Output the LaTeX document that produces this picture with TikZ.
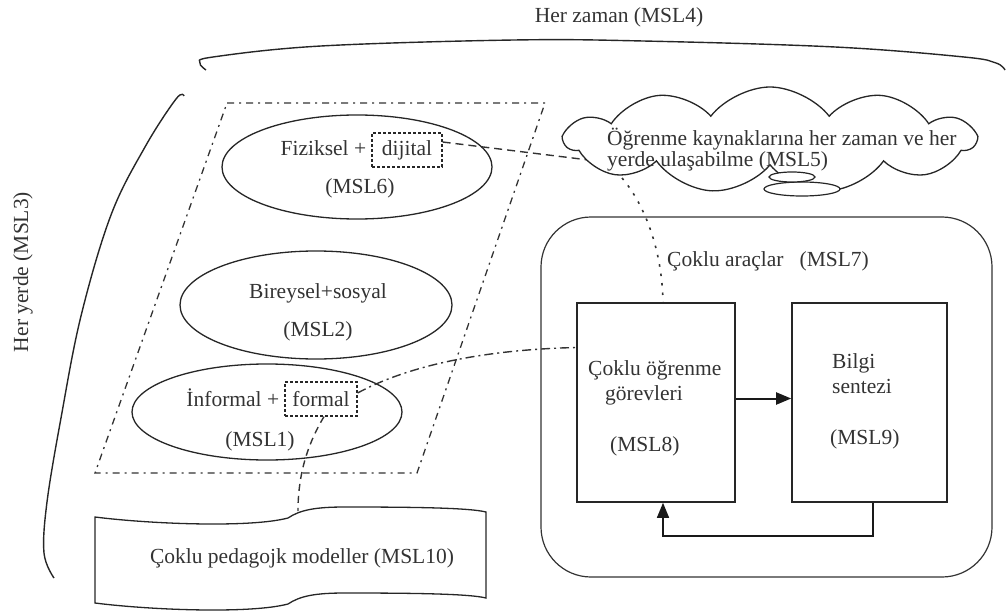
\documentclass[tikz,border=0pt]{standalone}
\usepackage{fontspec}
\setmainfont{Liberation Serif}
\usetikzlibrary{shapes.geometric,shapes.symbols,arrows.meta}
\begin{document}
\begin{tikzpicture}[x=1pt,y=-1pt,
  every node/.style={font=\fontsize{21.5}{25}\selectfont, text=black!80},
  lbl/.style={inner sep=0pt, anchor=base},
  lblw/.style={inner sep=0pt, anchor=base west},
  oval/.style={draw=black!85, ellipse, line width=1.3pt, inner sep=0pt},
  tagbox/.style={draw=black!85, line width=1.2pt, dash pattern=on 3pt off 2pt, inner sep=0pt, minimum height=34pt},
  taskbox/.style={draw=black!85, line width=1.6pt, inner sep=0pt, minimum height=199pt},
  brace/.style={draw=black!85, line width=1.4pt},
  frame/.style={draw=black!80, line width=1.3pt, dash pattern=on 7pt off 5pt on 2pt off 5pt},
  link/.style={draw=black!80, line width=1.4pt},
  flow/.style={draw=black!90, -{Triangle[length=15pt,width=12pt]}},
]
\useasboundingbox (0,0) rectangle (1008,612);

% braces for "every time" and "everywhere"
\draw[brace] plot[smooth, tension=0.6] coordinates {(206,70) (200,63) (213,57) (321,46) (514,40) (643,41) (835,47) (964,57) (996,63) (1005,70)};
\draw[brace] plot[smooth, tension=0.6] coordinates {(184,96) (176,99) (145,147) (111,215) (81,316) (61,418) (47,502) (44,553) (54,578)};
\node[lbl] (t4) at (619,23) {Her zaman (MSL4)};
\node[rotate=90, inner sep=0pt] (t3) at (23,272) {Her yerde (MSL3)};

% dash-dot frame around the three learning dimensions
\draw[frame] (227,103) -- (545,103) -- (417,473) -- (95,473) -- cycle;

% the three ovals
\node[oval, minimum width=270pt, minimum height=104pt] (e6) at (357,167) {};
\node[oval, minimum width=272pt, minimum height=108pt] (e2) at (316,305) {};
\node[oval, minimum width=270pt, minimum height=96pt] (e1) at (267,412) {};

\node[tagbox, minimum width=70pt] (dij) at (407,150) {dijital};
\node[anchor=base east, inner sep=0pt] (fiz) at ([xshift=-5pt]dij.base west) {Fiziksel +};
\node[lbl] (m6) at (360,194) {(MSL6)};

\node[lbl] (bir) at (318,298) {Bireysel+sosyal};
\node[lbl] (m2) at (318,336) {(MSL2)};

\node[tagbox, minimum width=72pt] (fml) at (321,399) {formal};
\node[anchor=base east, inner sep=0pt] (inf) at ([xshift=-5pt]fml.base west) {İnformal +};
\node[lbl] (m1) at (260,446) {(MSL1)};

% pedagogical models (document shape)
\draw[draw=black!85, line width=1.3pt] (95,517) .. controls (150,524) and (250,528) .. (288,518)
  .. controls (300,510) and (315,507) .. (345,507) .. controls (420,507) and (470,508) .. (486,512)
  -- (486,598) .. controls (470,594) and (420,593) .. (345,593)
  .. controls (315,593) and (300,596) .. (288,604) .. controls (250,614) and (150,610) .. (95,603) -- cycle;
\node (doc) at (302,558) {Çoklu pedagojk modeller (MSL10)};
\coordinate (doctop) at (298,511);

% multiple tools container
\node[draw=black!80, line width=1.2pt, rounded corners=50pt, minimum width=451pt, minimum height=360pt, inner sep=0pt] (tools) at (766.5,397) {};
\node[lblw] (m7) at (667,266) {Çoklu araçlar\hspace{16pt}(MSL7)};

\node[taskbox, minimum width=158pt] (b8) at (656,402.5) {};
\node[taskbox, minimum width=155pt] (b9) at (869.5,402.5) {};
\node[lblw] at (588,375) {Çoklu öğrenme};
\node[lblw] at (605,400) {görevleri};
\node[lblw] at (610,451) {(MSL8)};
\node[lblw] at (832,368) {Bilgi};
\node[lblw] at (832,393) {sentezi};
\node[lblw] at (830,444) {(MSL9)};

\draw[flow, line width=2pt] ([yshift=4pt]b8.east) -- ([yshift=4pt]b9.west);
\draw[flow, line width=1.5pt] ([xshift=3.5pt]b9.south) -- ++(0,33) -| ([xshift=7pt]b8.south);

% links between the boxed terms and the other parts
\coordinate (cin) at (605,162);
\coordinate (cout) at (622,178);
\draw[link, dash pattern=on 8pt off 5pt] ([yshift=8pt]dij.east) -- (cin);
\draw[link, line width=1.6pt, dash pattern=on 2.5pt off 7pt] (cout) .. controls (645,205) and (662,250) .. ([xshift=7pt]b8.north);
\draw[link, dash pattern=on 9pt off 4pt on 2pt off 4pt] ([yshift=6pt]fml.east) .. controls (400,370) and (470,350) .. ([yshift=55pt]b8.west);
\draw[link, dash pattern=on 7pt off 5pt] ([xshift=3pt]fml.south) .. controls (310,440) and (298,470) .. (doctop);

% cloud: access to learning resources
\node[cloud, draw=black!85, fill=white, cloud puffs=11, cloud puff arc=105, cloud ignores aspect,
  minimum width=410pt, minimum height=106pt, line width=1.3pt, inner sep=0pt] (cloud) at (770,140) {};
\draw[draw=black!85, fill=white, line width=1.2pt] (802,189) ellipse [x radius=38pt, y radius=7pt];
\draw[draw=black!85, fill=white, line width=1.2pt] (792,177) ellipse [x radius=23pt, y radius=5pt];
\node[lblw] (c1) at (607,146) {Öğrenme kaynaklarına her zaman ve her};
\node[lblw] (c2) at (607,167) {yerde ulaşabilme (MSL5)};
\end{tikzpicture}
\end{document}
